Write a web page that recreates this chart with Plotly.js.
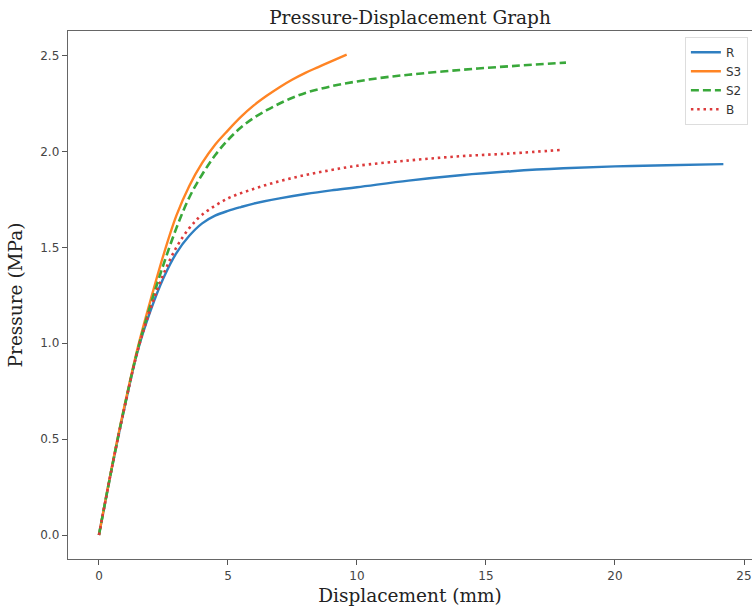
<!DOCTYPE html>
<html>
<head>
<meta charset="utf-8">
<script src="https://cdn.plot.ly/plotly-3.0.1.min.js"></script>
<style>html,body{margin:0;padding:0;background:#fff;}#chart{width:752px;height:610px;}</style>
</head>
<body>
<div id="chart"></div>
<script>
// Series names
var seriesNames = ["R", "S3", "S2", "B"];

// R (blue, solid)
var rX = [0, 0.5, 1, 1.5, 2, 2.5, 3, 3.5, 4, 4.5, 5, 5.5, 6, 7, 8, 9, 10, 12, 14, 16, 18, 20, 22, 24.2];
var rY = [0, 0.35, 0.67, 0.96, 1.17, 1.34, 1.47, 1.56, 1.625, 1.665, 1.69, 1.71, 1.728, 1.755, 1.778, 1.797, 1.813, 1.848, 1.876, 1.897, 1.912, 1.922, 1.928, 1.934];

// S3 (orange, solid)
var s3X = [0, 0.5, 1, 1.5, 2, 2.5, 3, 3.5, 4, 4.5, 5, 5.5, 6, 6.5, 7, 7.5, 8, 8.5, 9, 9.6];
var s3Y = [0, 0.355, 0.68, 0.975, 1.225, 1.46, 1.665, 1.82, 1.94, 2.035, 2.11, 2.18, 2.24, 2.29, 2.335, 2.375, 2.41, 2.44, 2.47, 2.505];

// S2 (green, dashed)
var s2X = [0, 0.5, 1, 1.5, 2, 2.5, 3, 3.5, 4, 4.5, 5, 5.5, 6, 6.5, 7, 7.5, 8, 9, 10, 11, 12, 14, 16, 18.1];
var s2Y = [0, 0.35, 0.675, 0.965, 1.20, 1.41, 1.60, 1.76, 1.88, 1.98, 2.06, 2.125, 2.175, 2.215, 2.25, 2.28, 2.305, 2.34, 2.365, 2.385, 2.40, 2.425, 2.445, 2.463];

// B (red, dotted)
var bX = [0, 0.5, 1, 1.5, 2, 2.5, 3, 3.5, 4, 5, 6, 7, 8, 9, 10, 12, 14, 16, 17.9];
var bY = [0, 0.35, 0.67, 0.96, 1.18, 1.36, 1.50, 1.60, 1.67, 1.755, 1.805, 1.845, 1.877, 1.903, 1.925, 1.953, 1.975, 1.99, 2.008];

// Axis tick values and labels
var xTicks = [0, 5, 10, 15, 20, 25];
var xTickLabels = ["0", "5", "10", "15", "20", "25"];
var yTicks = [0, 0.5, 1.0, 1.5, 2.0, 2.5];
var yTickLabels = ["0.0", "0.5", "1.0", "1.5", "2.0", "2.5"];

var colors = ["#2f7fc1", "#ff8424", "#39a83a", "#dc3a3b"];

var traces = [
  {x: rX, y: rY, name: seriesNames[0], mode: "lines", line: {color: colors[0], width: 2.4, shape: "spline", smoothing: 1}},
  {x: s3X, y: s3Y, name: seriesNames[1], mode: "lines", line: {color: colors[1], width: 2.4, shape: "spline", smoothing: 1}},
  {x: s2X, y: s2Y, name: seriesNames[2], mode: "lines", line: {color: colors[2], width: 2.6, dash: "8px,4px", shape: "spline", smoothing: 1}},
  {x: bX, y: bY, name: seriesNames[3], mode: "lines", line: {color: colors[3], width: 2.6, dash: "2.5px,3.8px", shape: "spline", smoothing: 1}}
];

var layout = {
  width: 752,
  height: 610,
  margin: {l: 68, r: 0, t: 31, b: 51, pad: 0},
  paper_bgcolor: "#ffffff",
  plot_bgcolor: "#ffffff",
  showlegend: true,
  title: {
    text: "Pressure-Displacement Graph",
    font: {family: "DejaVu Serif", size: 18.5, color: "#222"},
    x: 0.5, xref: "paper", xanchor: "center",
    y: 0.972, yref: "container", yanchor: "middle"
  },
  xaxis: {
    range: [-1.2, 25.31],
    tickmode: "array", tickvals: xTicks, ticktext: xTickLabels,
    ticks: "outside", ticklen: 5, tickwidth: 1, tickcolor: "#555",
    showline: true, linecolor: "#666", linewidth: 1.3, mirror: true,
    showgrid: false, zeroline: false,
    tickfont: {family: "DejaVu Sans", size: 12, color: "#444"},
    title: {text: "Displacement (mm)", font: {family: "DejaVu Serif", size: 18.5, color: "#222"}, standoff: 7}
  },
  yaxis: {
    range: [-0.125, 2.628],
    tickmode: "array", tickvals: yTicks, ticktext: yTickLabels,
    ticks: "outside", ticklen: 5, tickwidth: 1, tickcolor: "#555",
    showline: true, linecolor: "#666", linewidth: 1.3, mirror: false,
    showgrid: false, zeroline: false,
    tickfont: {family: "DejaVu Sans", size: 12, color: "#444"},
    title: {text: "Pressure (MPa)", font: {family: "DejaVu Serif", size: 18.5, color: "#222"}, standoff: 12}
  },
  legend: {
    x: 0.994, xanchor: "right", y: 0.989, yanchor: "top",
    bgcolor: "rgba(255,255,255,0.9)", bordercolor: "#dddddd", borderwidth: 1,
    font: {family: "DejaVu Sans", size: 12, color: "#333"},
    tracegroupgap: 0, itemwidth: 30
  }
};

Plotly.newPlot("chart", traces, layout, {displayModeBar: false, staticPlot: true});
</script>
</body>
</html>
